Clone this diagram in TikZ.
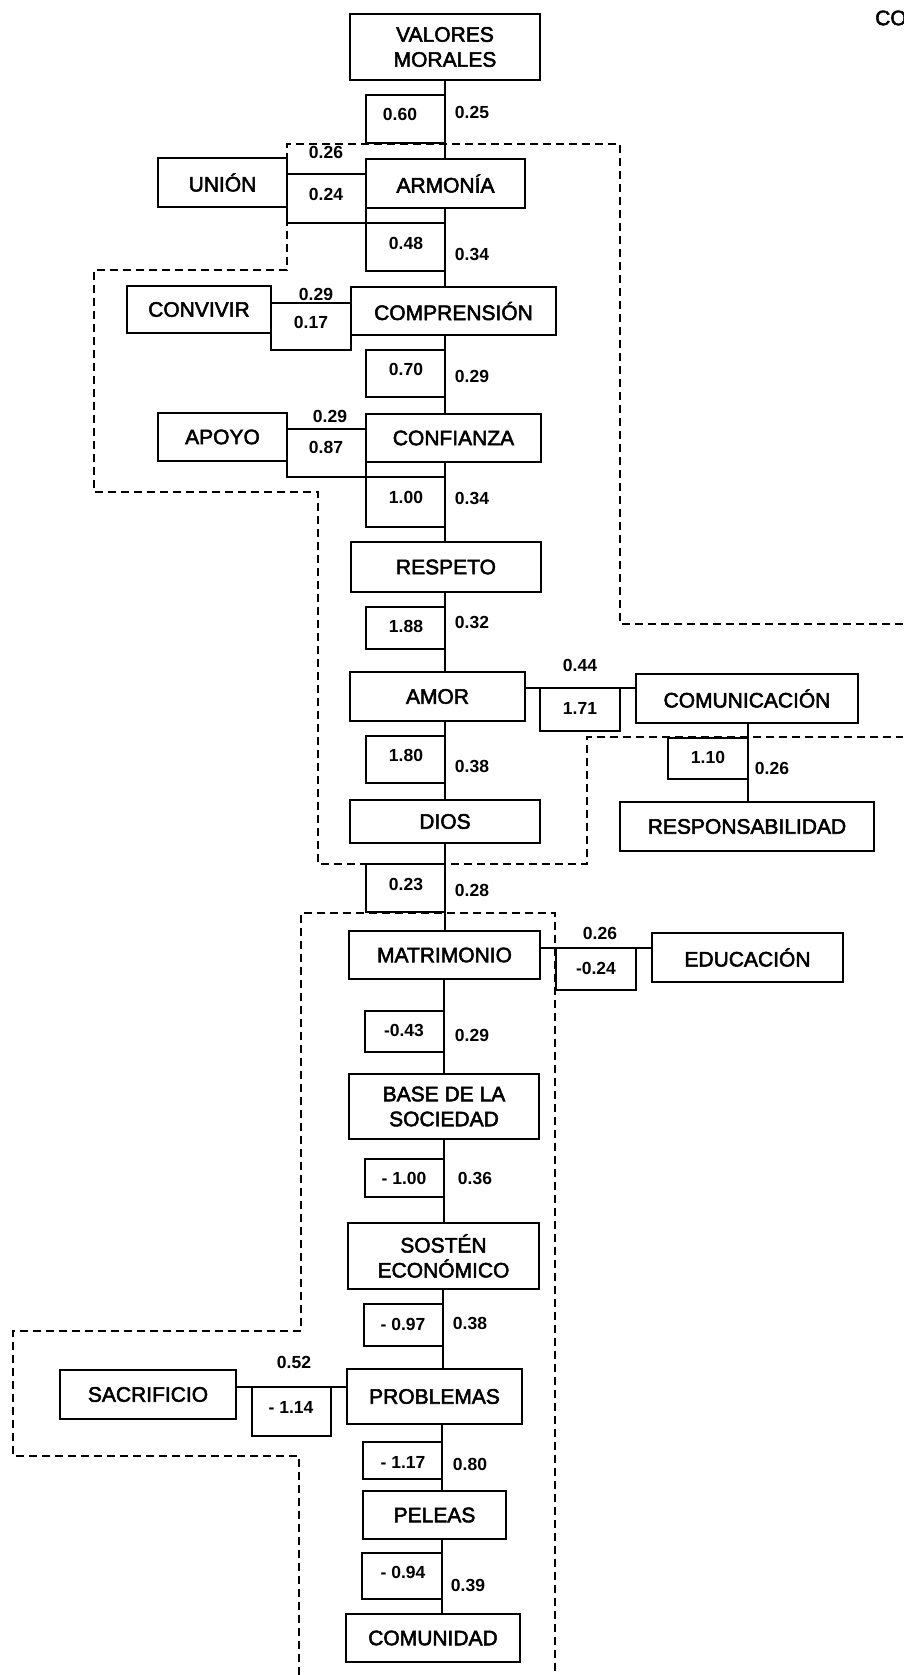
\documentclass[tikz,border=0pt]{standalone}
\usepackage{fontspec}
\setmainfont{Liberation Sans}
\newfontfamily\lblfont{Liberation Sans}[FakeBold=2.5]
\begin{document}
\begin{tikzpicture}[x=1pt,y=-1pt,
  mainbox/.style={draw, line width=1.6pt, inner sep=0pt, outer sep=0pt, anchor=north west, align=center,
     font=\lblfont\fontsize{21}{25}\selectfont},
  numbox/.style={draw, line width=1.6pt, inner sep=0pt, outer sep=0pt, anchor=north west},
  numtxt/.style={inner sep=0pt, font=\bfseries\fontsize{17.5}{20}\selectfont},
  link/.style={line width=1.6pt},
  region/.style={line width=1.5pt, dash pattern=on 8pt off 5pt}]
\useasboundingbox (0,0) rectangle (903,1675);
\newcommand\bx[6]{\node[mainbox, minimum width={#4-#2}, minimum height={#5-#3}] (#1) at (#2,#3) {#6};}
\newcommand\nb[5]{\node[numbox, minimum width={#4-#2}, minimum height={#5-#3}] (#1) at (#2,#3) {};}
% dashed regions
\draw[region] (903,624) -- (620,624) -- (620,144) -- (287,144) -- (287,270) -- (94,270) -- (94,492)
  -- (318,492) -- (318,864) -- (587,864) -- (587,737) -- (903,737);
\draw[region] (299,1675) -- (299,1456) -- (13,1456) -- (13,1331) -- (301,1331) -- (301,913)
  -- (555,913) -- (555,1675);
% main boxes
\bx{valores}{350}{14}{540}{80}{VALORES\\MORALES}
\bx{union}{158}{158}{287}{207}{UNIÓN}
\bx{armonia}{366}{159}{525}{208}{ARMONÍA}
\bx{convivir}{127}{286}{271}{333}{CONVIVIR}
\bx{comprension}{351}{287}{556}{335}{COMPRENSIÓN}
\bx{apoyo}{158}{413}{287}{461}{APOYO}
\bx{confianza}{366}{414}{541}{462}{CONFIANZA}
\bx{respeto}{351}{542}{541}{592}{RESPETO}
\bx{amor}{350}{672}{525}{721}{AMOR}
\bx{comunicacion}{636}{674}{858}{723}{COMUNICACIÓN}
\bx{dios}{350}{800}{540}{843}{DIOS}
\bx{responsabilidad}{620}{802}{874}{851}{RESPONSABILIDAD}
\bx{matrimonio}{349}{931}{540}{979}{MATRIMONIO}
\bx{educacion}{652}{933}{843}{982}{EDUCACIÓN}
\bx{base}{349}{1074}{539}{1139}{BASE DE LA\\SOCIEDAD}
\bx{sosten}{348}{1223}{539}{1289}{SOSTÉN\\ECONÓMICO}
\bx{problemas}{347}{1369}{522}{1424}{PROBLEMAS}
\bx{sacrificio}{60}{1370}{236}{1419}{SACRIFICIO}
\bx{peleas}{363}{1491}{506}{1539}{PELEAS}
\bx{comunidad}{346}{1614}{520}{1662}{COMUNIDAD}
% number boxes
\nb{n1}{366}{95}{445}{143}
\nb{n2}{287}{174}{366}{223}
\nb{n3}{366}{223}{445}{271}
\nb{n4}{271}{303}{351}{350}
\nb{n5}{366}{350}{445}{397}
\nb{n6}{287}{429}{366}{477}
\nb{n7}{366}{477}{445}{527}
\nb{n8}{366}{607}{445}{649}
\nb{n9}{540}{688}{620}{731}
\nb{n10}{668}{738}{748}{779}
\nb{n11}{366}{736}{445}{783}
\nb{n12}{366}{864}{445}{912}
\nb{n13}{556}{948}{636}{990}
\nb{n14}{365}{1011}{444}{1052}
\nb{n15}{365}{1159}{444}{1197}
\nb{n16}{364}{1304}{443}{1346}
\nb{n17}{252}{1387}{331}{1436}
\nb{n18}{363}{1442}{442}{1479}
\nb{n19}{362}{1553}{442}{1599}
% trunk connectors
\draw[link] (valores.south -| n1.east) -- (armonia.north -| n1.east);
\draw[link] (armonia.south -| n3.east) -- (comprension.north -| n3.east);
\draw[link] (comprension.south -| n5.east) -- (confianza.north -| n5.east);
\draw[link] (confianza.south -| n7.east) -- (respeto.north -| n7.east);
\draw[link] (respeto.south -| n8.east) -- (amor.north -| n8.east);
\draw[link] (amor.south -| n11.east) -- (dios.north -| n11.east);
\draw[link] (dios.south -| n12.east) -- (matrimonio.north -| n12.east);
\draw[link] (matrimonio.south -| n14.east) -- (base.north -| n14.east);
\draw[link] (base.south -| n15.east) -- (sosten.north -| n15.east);
\draw[link] (sosten.south -| n16.east) -- (problemas.north -| n16.east);
\draw[link] (problemas.south -| n18.east) -- (peleas.north -| n18.east);
\draw[link] (peleas.south -| n19.east) -- (comunidad.north -| n19.east);
% side connectors
\draw[link] (union.east |- n2.north) -- (armonia.west |- n2.north);
\draw[link] (convivir.east |- n4.north) -- (comprension.west |- n4.north);
\draw[link] (apoyo.east |- n6.north) -- (confianza.west |- n6.north);
\draw[link] (amor.east |- n9.north) -- (comunicacion.west |- n9.north);
\draw[link] (comunicacion.south -| n10.east) -- (responsabilidad.north -| n10.east);
\draw[link] (matrimonio.east |- n13.north) -- (educacion.west |- n13.north);
\draw[link] (sacrificio.east |- n17.north) -- (problemas.west |- n17.north);
% numbers
\node[numtxt] (t1a) at (400,114) {0.60};
\node[numtxt] (t1b) at (472,112) {0.25};
\node[numtxt] (t2a) at (326,152) {0.26};
\node[numtxt] (t2b) at (326,194) {0.24};
\node[numtxt] (t3a) at (406,243) {0.48};
\node[numtxt] (t3b) at (472,254) {0.34};
\node[numtxt] (t4a) at (316,294) {0.29};
\node[numtxt] (t4b) at (311,322) {0.17};
\node[numtxt] (t5a) at (406,369) {0.70};
\node[numtxt] (t5b) at (472,376) {0.29};
\node[numtxt] (t6a) at (330,416) {0.29};
\node[numtxt] (t6b) at (326,447) {0.87};
\node[numtxt] (t7a) at (406,497) {1.00};
\node[numtxt] (t7b) at (472,498) {0.34};
\node[numtxt] (t8a) at (406,626) {1.88};
\node[numtxt] (t8b) at (472,622) {0.32};
\node[numtxt] (t9a) at (580,665) {0.44};
\node[numtxt] (t9b) at (580,708) {1.71};
\node[numtxt] (t10a) at (708,757) {1.10};
\node[numtxt] (t10b) at (772,768) {0.26};
\node[numtxt] (t11a) at (406,755) {1.80};
\node[numtxt] (t11b) at (472,766) {0.38};
\node[numtxt] (t12a) at (406,884) {0.23};
\node[numtxt] (t12b) at (472,890) {0.28};
\node[numtxt] (t13a) at (600,933) {0.26};
\node[numtxt] (t13b) at (596,968) {-0.24};
\node[numtxt] (t14a) at (404,1030) {-0.43};
\node[numtxt] (t14b) at (472,1035) {0.29};
\node[numtxt] (t15a) at (404,1178) {- 1.00};
\node[numtxt] (t15b) at (475,1178) {0.36};
\node[numtxt] (t16a) at (403,1324) {- 0.97};
\node[numtxt] (t16b) at (470,1323) {0.38};
\node[numtxt] (t17a) at (294,1362) {0.52};
\node[numtxt] (t17b) at (291,1407) {- 1.14};
\node[numtxt] (t18a) at (403,1462) {- 1.17};
\node[numtxt] (t18b) at (470,1464) {0.80};
\node[numtxt] (t19a) at (403,1572) {- 0.94};
\node[numtxt] (t19b) at (468,1585) {0.39};
% cut-off header text
\node[anchor=west, inner sep=0pt, font=\lblfont\fontsize{21}{25}\selectfont] (co) at (875,18) {CO};
\end{tikzpicture}
\end{document}
